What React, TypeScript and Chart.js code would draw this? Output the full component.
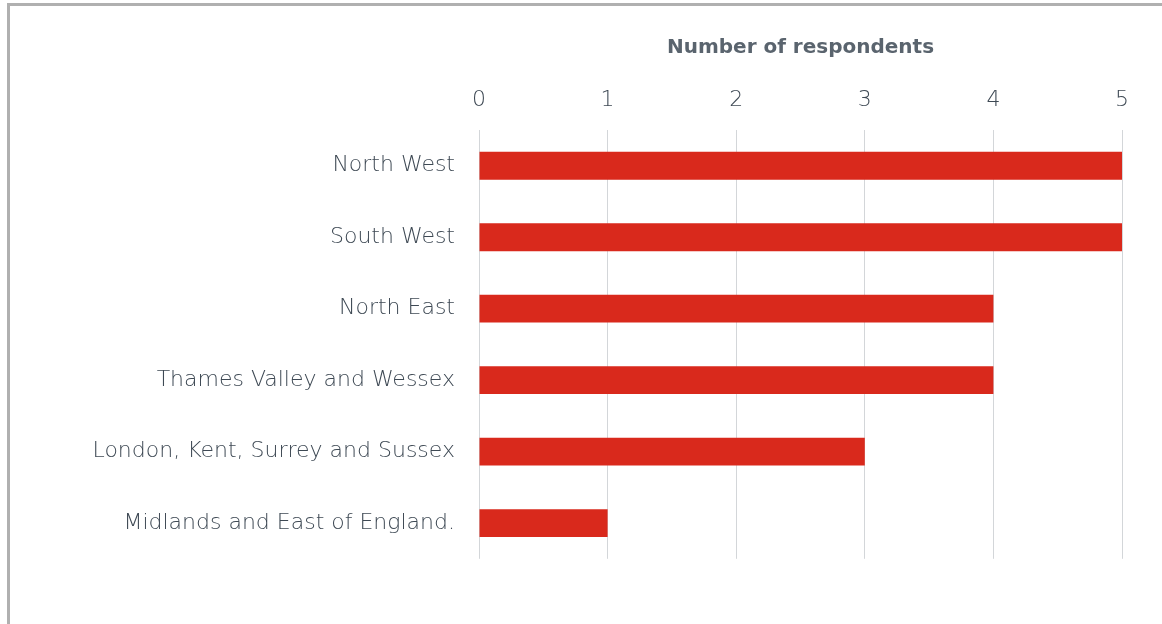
import React, { useEffect, useRef } from "react";
import { Chart, registerables } from "chart.js";

Chart.register(...registerables);

const categories = [
  "North West",
  "South West",
  "North East",
  "Thames Valley and Wessex",
  "London, Kent, Surrey and Sussex",
  "Midlands and East of England.",
];
const respondents = [5, 5, 4, 4, 3, 1];
const axisTitle = "Number of respondents";

const TEXT = "#3E4954";
const FONT = "'DejaVu Sans', sans-serif";

export default function App() {
  const ref = useRef<HTMLCanvasElement | null>(null);

  useEffect(() => {
    if (!ref.current) return;
    const chart = new Chart(ref.current, {
      type: "bar",
      data: {
        labels: categories,
        datasets: [
          {
            data: respondents,
            backgroundColor: "#D9291C",
            borderWidth: 0,
            barPercentage: 0.39,
            categoryPercentage: 1,
          },
        ],
      },
      options: {
        indexAxis: "y",
        animation: false,
        responsive: false,
        maintainAspectRatio: false,
        layout: { padding: { left: 0, right: 38, top: 0, bottom: 0 } },
        plugins: {
          legend: { display: false },
          tooltip: { enabled: false },
          title: { display: false },
        },
        scales: {
          x: {
            position: "top",
            min: 0,
            max: 5,
            ticks: {
              stepSize: 1,
              color: TEXT,
              padding: 17,
              font: { family: FONT, size: 22, weight: "200" },
            },
            grid: {
              color: "#D3D6D9",
              lineWidth: 1,
              drawTicks: false,
            },
            border: { display: false },
            title: {
              display: true,
              text: axisTitle,
              color: "#5A646E",
              font: { family: FONT, size: 20, weight: "bold" },
              padding: { top: 30, bottom: 0 },
            },
            afterFit: (s: any) => {
              s.height = 124;
            },
          },
          y: {
            ticks: {
              color: TEXT,
              padding: 24,
              font: { family: FONT, size: 22, weight: "200" },
            },
            grid: { display: false, drawTicks: false },
            border: { display: false },
            afterFit: (s: any) => {
              s.width = 469;
            },
          },
        },
      },
    });
    return () => chart.destroy();
  }, []);

  return (
    <div
      style={{
        position: "fixed",
        left: 7,
        top: 3,
        width: 1220,
        height: 700,
        border: "3px solid #B0B0B0",
        background: "#fff",
      }}
    >
      <canvas
        ref={ref}
        width={1150}
        height={590}
        style={{ display: "block", width: 1150, height: 590 }}
      />
    </div>
  );
}
